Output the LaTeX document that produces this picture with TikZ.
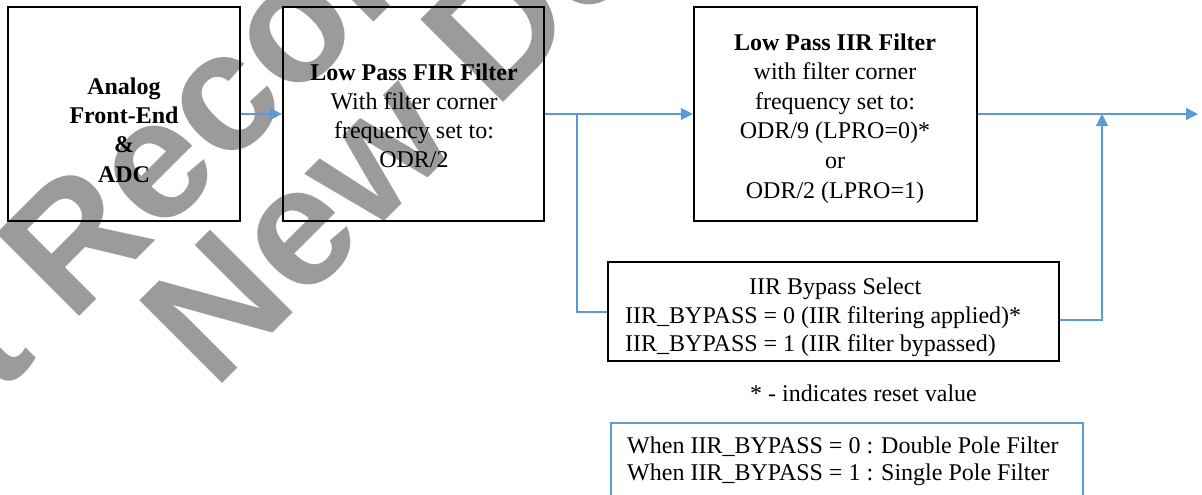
\documentclass[tikz,border=0pt]{standalone}
\usepackage{fontspec}
\setmainfont{Liberation Serif}
\newfontfamily\wmfont{Liberation Sans}
\usetikzlibrary{arrows.meta}
\definecolor{lblue}{RGB}{91,155,213}
\definecolor{wmgray}{RGB}{155,155,155}
\begin{document}
\begin{tikzpicture}[x=1pt,y=-1pt,
  blk/.style={draw=black, line width=2.2pt, inner sep=0pt},
  txt/.style={font=\fontsize{24}{29}\selectfont, align=center, inner sep=0pt, anchor=base},
  conn/.style={draw=lblue, line width=1.3pt},
  arr/.style={conn, -{Triangle[length=12pt,width=12pt]}},
  wm/.style={rotate=45, anchor=base west, inner sep=0pt, text=wmgray,
    font=\wmfont\bfseries\fontsize{170}{170}\selectfont}]
\useasboundingbox (0,0) rectangle (1202,495);
% watermark
\begin{scope}
  \clip (0,0) rectangle (1202,495);
  \node[wm] (wm1) at (-162,558) {Not Recommended for};
  \node[wm] (wm2) at (214.7,391.5) {New Designs};
\end{scope}
% boxes
\node[blk, minimum width=232pt, minimum height=214pt] (adc) at (124,114) {};
\node[blk, minimum width=261pt, minimum height=214pt] (fir) at (413.5,114) {};
\node[blk, minimum width=283pt, minimum height=214pt] (iir) at (835.5,114) {};
\node[blk, minimum width=451pt, minimum height=99pt] (byp) at (833.5,311.5) {};
\node[draw=lblue, line width=2pt, minimum width=472pt, minimum height=110pt, inner sep=0pt] (note) at (847,478) {};
% texts (anchor base = baseline of the last line)
\node[txt, font=\bfseries\fontsize{24}{29.3}\selectfont] (adct) at (124,182) {Analog\\Front-End\\\&\\ADC};
\node[txt] (firt) at (414,167) {\textbf{Low Pass FIR Filter}\\With filter corner\\frequency set to:\\ODR/2};
\node[txt, font=\fontsize{24}{29.6}\selectfont] (iirt) at (835,198) {\textbf{Low Pass IIR Filter}\\with filter corner\\frequency set to:\\ODR/9 (LPRO=0)*\\or\\ODR/2 (LPRO=1)};
\node[txt, align=left, anchor=base west, font=\fontsize{24}{28.5}\selectfont] (bypt) at (625,351.5) {\makebox[420pt][c]{IIR Bypass Select}\\IIR\_BYPASS = 0 (IIR filtering applied)*\\IIR\_BYPASS = 1 (IIR filter bypassed)};
\node[txt] (reset) at (863.5,401) {* - indicates reset value};
\node[txt, align=left, anchor=base west, font=\fontsize{24}{27}\selectfont] (notet) at (627,480) {When IIR\_BYPASS = 0 : Double Pole Filter\\When IIR\_BYPASS = 1 : Single Pole Filter};
% connectors
\coordinate (br) at (577,114);
\coordinate (out) at (1198,114);
\coordinate (jn) at (1102,114);
\draw[arr] (adc.east) -- (fir.west);
\draw[arr] (fir.east) -- (iir.west);
\draw[conn] (br) |- ([yshift=-0.5pt]byp.west);
\draw[arr] (iir.east) -- (out);
\draw[arr] ([yshift=-8.5pt]byp.east) -| (jn);
\end{tikzpicture}
\end{document}
